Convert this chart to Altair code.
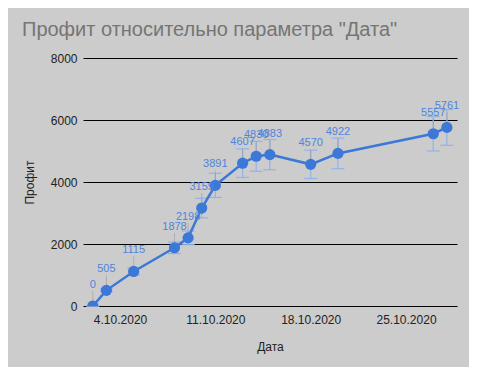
import altair as alt
import pandas as pd

dates = ["2020-10-02", "2020-10-03", "2020-10-05", "2020-10-08", "2020-10-09",
         "2020-10-10", "2020-10-11", "2020-10-13", "2020-10-14", "2020-10-15",
         "2020-10-18", "2020-10-20", "2020-10-27", "2020-10-28"]
profit = [0, 505, 1115, 1878, 2198, 3159, 3891, 4607, 4830, 4883, 4570, 4922, 5557, 5761]
error_pct = 0.10
y_ticks = [0, 2000, 4000, 6000, 8000]
x_tick_days = [4, 11, 18, 25]

df = pd.DataFrame({"date": dates, "profit": profit})

FONT = "Liberation Sans"
BLUE = "#3c78d8"
LABEL_BLUE = "#4f84dc"
ERR = "#93b2e8"

x_enc = alt.X(
    "date:T",
    title="Дата",
    scale=alt.Scale(
        type="utc",
        domain=[alt.DateTime(year=2020, month=10, date=1, hours=6, minutes=45, utc=True),
                alt.DateTime(year=2020, month=10, date=28, hours=17, minutes=50, utc=True)],
    ),
    axis=alt.Axis(
        values=[alt.DateTime(year=2020, month=10, date=d, utc=True) for d in x_tick_days],
        labelExpr="utcFormat(datum.value, '%-d.%m.%Y')",
        grid=False, ticks=False, domain=False,
        labelPadding=8, titlePadding=16,
    ),
)
y_enc = alt.Y(
    "profit:Q",
    title="Профит",
    scale=alt.Scale(domain=[0, 8000], nice=False),
    axis=alt.Axis(values=y_ticks, format="d", grid=True, gridColor="#000000", gridOpacity=1,
                  gridWidth=1, ticks=False, domain=False, labelPadding=6,
                  titlePadding=14),
)

base = alt.Chart(df).transform_calculate(
    lo=f"datum.profit * (1 - {error_pct})",
    hi=f"datum.profit * (1 + {error_pct})",
    stem="datum.profit + 480",
)

err_rule = base.mark_rule(color=ERR, strokeWidth=1.2).encode(
    x=x_enc, y=alt.Y("lo:Q"), y2="hi:Q")
cap_lo = base.mark_tick(color=ERR, orient="horizontal", size=13, thickness=1.2,
                        opacity=1).encode(x=x_enc, y=alt.Y("lo:Q"))
cap_hi = base.mark_tick(color=ERR, orient="horizontal", size=13, thickness=1.2,
                        opacity=1).encode(x=x_enc, y=alt.Y("hi:Q"))
stem = base.mark_rule(color="#9a9a9a", strokeWidth=1, opacity=0.6).encode(
    x=x_enc, y=alt.Y("profit:Q"), y2="stem:Q")
line = base.mark_line(color=BLUE, strokeWidth=2.5, clip=True).encode(x=x_enc, y=y_enc)
points = base.mark_circle(color=BLUE, size=125, opacity=1, clip=True).encode(x=x_enc, y=y_enc)
labels = base.mark_text(color=LABEL_BLUE, fontSize=11, font=FONT, dy=-18,
                        baseline="alphabetic").encode(
    x=x_enc, y=y_enc, text=alt.Text("profit:Q", format="d"))

chart = alt.layer(err_rule, cap_lo, cap_hi, stem, line, points, labels).properties(
    width=374, height=248,
    autosize=alt.AutoSizeParams(type="none"),
    padding={"left": 75, "top": 50, "right": 12, "bottom": 61},
    background="#cccccc",
    title=alt.TitleParams(
        "Профит относительно параметра \"Дата\"",
        anchor="start", frame="group", font=FONT, fontSize=20, fontWeight="normal",
        color="#757575", dx=-61, offset=12,
    ),
).configure_view(stroke=None).configure_axis(
    labelFont=FONT, labelFontSize=12, labelColor="#222222",
    titleFont=FONT, titleFontSize=12, titleColor="#222222", titleFontWeight="normal",
)

chart.save("out.html", embed_options={"renderer": "svg", "actions": False})
